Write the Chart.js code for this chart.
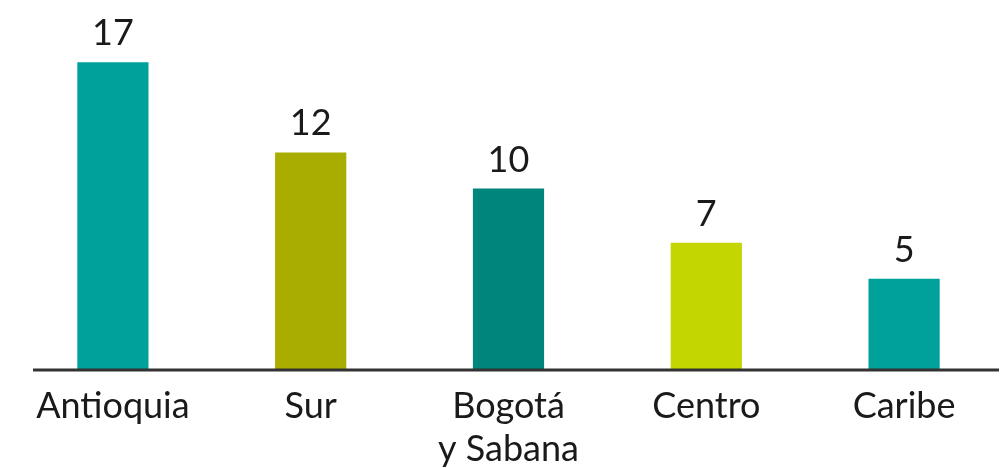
<!DOCTYPE html>
<html>
<head>
<meta charset="utf-8">
<script src="https://cdn.jsdelivr.net/npm/chart.js@4"></script>
<style>
  html, body { margin: 0; padding: 0; background: #fff; }
  #wrap { width: 1003px; height: 468px; }
</style>
</head>
<body>
<div id="wrap"><canvas id="chart"></canvas></div>
<script>
const categories = ["Antioquia", "Sur", ["Bogotá", "y Sabana"], "Centro", "Caribe"];
const values = [17, 12, 10, 7, 5];
const barColors = ["#00A19A", "#A8AD00", "#00857C", "#C4D600", "#00A19A"];

const FONT = "Lato, 'Open Sans', sans-serif";

// etiquetas de valor encima de cada barra + línea base
const barLabels = {
  id: "barLabels",
  afterDatasetsDraw(chart) {
    const ctx = chart.ctx;
    const meta = chart.getDatasetMeta(0);
    ctx.save();
    ctx.fillStyle = "#1a1a1a";
    ctx.font = "36px " + FONT;
    ctx.textAlign = "center";
    ctx.textBaseline = "alphabetic";
    meta.data.forEach((bar, i) => {
      ctx.fillText(values[i], bar.x, bar.y - 17);
    });
    // eje x
    const y0 = chart.scales.y.getPixelForValue(0);
    ctx.strokeStyle = "#333333";
    ctx.lineWidth = 3;
    ctx.beginPath();
    ctx.moveTo(chart.chartArea.left + 19, y0 + 1);
    ctx.lineTo(chart.chartArea.right - 4, y0 + 1);
    ctx.stroke();
    ctx.restore();
  },
};

new Chart(document.getElementById("chart"), {
  type: "bar",
  data: {
    labels: categories,
    datasets: [
      {
        data: values,
        backgroundColor: barColors,
        barPercentage: 0.36,
        categoryPercentage: 1,
      },
    ],
  },
  options: {
    responsive: true,
    maintainAspectRatio: false,
    animation: false,
    layout: { padding: { top: 8, left: 14, right: 0, bottom: 0 } },
    plugins: {
      legend: { display: false },
      tooltip: { enabled: false },
    },
    scales: {
      x: {
        grid: { display: false, drawTicks: false },
        border: { display: false },
        afterFit(scale) {
          scale.height = 99;
        },
        ticks: {
          color: "#1a1a1a",
          font: { family: FONT, size: 36, lineHeight: 1.2 },
          padding: 16,
          maxRotation: 0,
          autoSkip: false,
        },
      },
      y: {
        display: false,
        min: 0,
        max: 20,
      },
    },
  },
  plugins: [barLabels],
});
</script>
</body>
</html>
